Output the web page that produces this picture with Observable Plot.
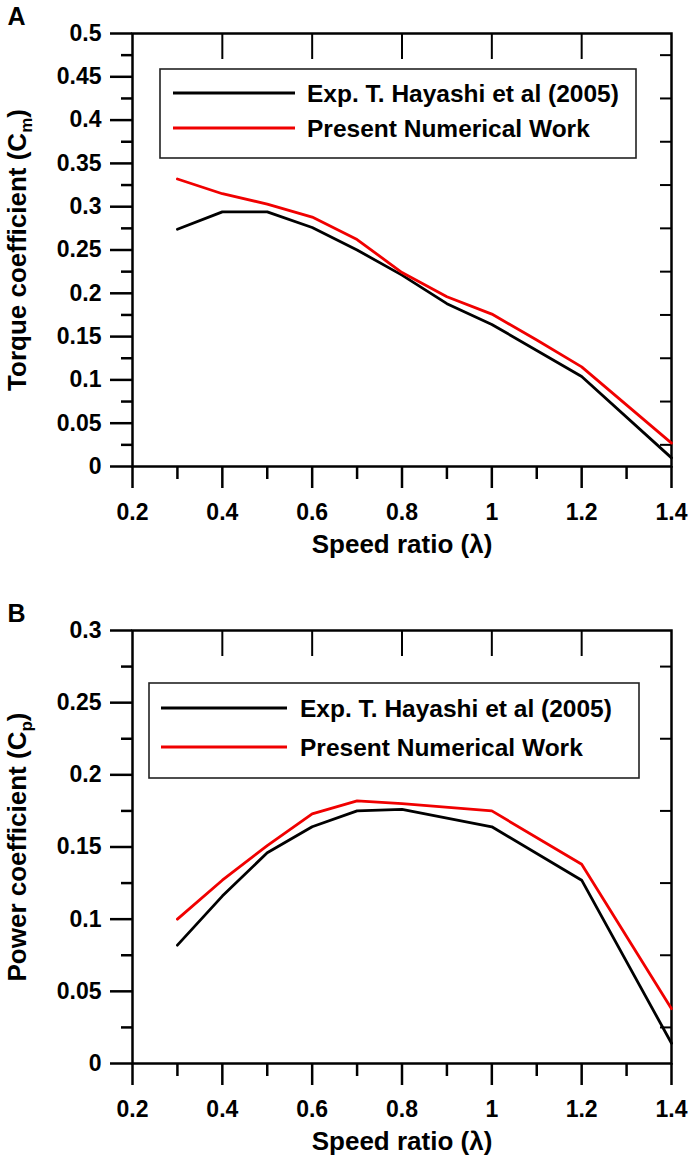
<!DOCTYPE html>
<html><head><meta charset="utf-8">
<script src="https://cdn.jsdelivr.net/npm/d3@7"></script>
<script src="https://cdn.jsdelivr.net/npm/@observablehq/plot@0.6"></script>
<style>body{margin:0;background:#fff;} #wrap{width:692px;} svg{display:block;}</style>
</head><body><div id="wrap"></div>
<script>
const seriesNames = ["Exp. T. Hayashi et al (2005)", "Present Numerical Work"];
const seriesColors = ["#000000", "#f00000"];

// Panel A: torque coefficient
const torqueExpX = [0.3, 0.4, 0.5, 0.6, 0.7, 0.8, 0.9, 1.0, 1.2, 1.4];
const torqueExpY = [0.274, 0.294, 0.294, 0.276, 0.250, 0.221, 0.188, 0.164, 0.104, 0.010];
const torqueNumX = [0.3, 0.4, 0.5, 0.6, 0.7, 0.8, 0.9, 1.0, 1.1, 1.2, 1.4];
const torqueNumY = [0.332, 0.315, 0.303, 0.288, 0.262, 0.224, 0.196, 0.176, 0.146, 0.115, 0.027];

// Panel B: power coefficient
const powerExpX = [0.3, 0.4, 0.5, 0.6, 0.7, 0.8, 1.0, 1.2, 1.4];
const powerExpY = [0.082, 0.116, 0.146, 0.164, 0.175, 0.176, 0.164, 0.127, 0.014];
const powerNumX = [0.3, 0.4, 0.5, 0.6, 0.7, 0.8, 1.0, 1.2, 1.4];
const powerNumY = [0.100, 0.127, 0.151, 0.173, 0.182, 0.180, 0.175, 0.138, 0.038];

// Ticks
const xMajor = [0.2, 0.4, 0.6, 0.8, 1.0, 1.2, 1.4];
const xMinor = [0.3, 0.5, 0.7, 0.9, 1.1, 1.3];
const xTop = [0.4, 0.6, 0.8, 1.0, 1.2];
const yMajorA = [0, 0.05, 0.1, 0.15, 0.2, 0.25, 0.3, 0.35, 0.4, 0.45, 0.5];
const yMinorA = [0.025, 0.075, 0.125, 0.175, 0.225, 0.275, 0.325, 0.375, 0.425, 0.475];
const yMajorB = [0, 0.05, 0.1, 0.15, 0.2, 0.25, 0.3];
const yMinorB = [0.025, 0.075, 0.125, 0.175, 0.225, 0.275];

const xTitle = "Speed ratio (λ)";
const FONT = "'Liberation Sans', Arial, Helvetica, sans-serif";

function zip(xs, ys) { return xs.map((x, i) => ({x, y: ys[i]})); }
const fmt = d => String(+(+d).toFixed(3));

function panel(cfg) {
  const p = Plot.plot({
    width: 692, height: cfg.height,
    marginTop: 33, marginLeft: 132, marginRight: 21, marginBottom: cfg.marginBottom,
    style: {fontFamily: FONT, fontWeight: "bold", fontSize: "23px", color: "#000", background: "#fff", overflow: "visible"},
    x: {domain: [0.2, 1.4]},
    y: {domain: cfg.yDomain},
    marks: [
      Plot.axisY(cfg.yMajor, {anchor: "left", tickSize: 22, tickPadding: 9, tickFormat: fmt, strokeWidth: 2.5, fontSize: 23, label: null}),
      Plot.axisY(cfg.yMinor, {anchor: "left", tickSize: 11, text: null, strokeWidth: 2.5, label: null}),
      Plot.axisY(cfg.yMinor, {anchor: "right", tickSize: -12, text: null, strokeWidth: 2, label: null}),
      Plot.axisX(xMajor, {anchor: "bottom", tickSize: 22, tickPadding: 15, tickFormat: fmt, strokeWidth: 2.5, fontSize: 23, label: null}),
      Plot.axisX(xMinor, {anchor: "bottom", tickSize: 13, text: null, strokeWidth: 2.5, label: null}),
      Plot.axisX(xTop, {anchor: "top", tickSize: -25, text: null, strokeWidth: 2, label: null}),
      Plot.frame({stroke: "#000", strokeWidth: 2.5}),
      Plot.line(cfg.exp, {x: "x", y: "y", stroke: seriesColors[0], strokeWidth: 2.8}),
      Plot.line(cfg.num, {x: "x", y: "y", stroke: seriesColors[1], strokeWidth: 2.8}),
      Plot.text([cfg.ylabel], {frameAnchor: "left", dx: -115, rotate: -90, fontSize: 26, textAnchor: "middle", lineAnchor: "middle", text: d => d}),
      Plot.text([xTitle], {frameAnchor: "bottom", dy: 78, fontSize: 26, textAnchor: "middle", lineAnchor: "middle", text: d => d}),
      Plot.text([cfg.letter], {frameAnchor: "top-left", dx: -116, dy: -17, fontSize: 25, textAnchor: "middle", lineAnchor: "middle", text: d => d})
    ]
  });
  const svg = d3.select(p);
  // subscript in y label
  svg.selectAll("text").filter(function () { return this.textContent === cfg.ylabel; })
    .each(function () {
      const t = d3.select(this);
      t.text(null);
      t.append("tspan").text(cfg.ylabelMain);
      t.append("tspan").attr("font-size", 17).attr("dy", 6).text(cfg.sub);
      t.append("tspan").attr("dy", -6).text(")");
    });
  // legend
  const L = cfg.legend;
  const g = svg.append("g").attr("font-family", FONT).attr("font-weight", "bold").attr("font-size", 24.5)
    .attr("text-anchor", "start");
  g.append("rect").attr("x", L.x0).attr("y", L.y0).attr("width", L.x1 - L.x0).attr("height", L.y1 - L.y0)
    .attr("fill", "#fff").attr("stroke", "#222").attr("stroke-width", 1.6);
  seriesNames.forEach((name, i) => {
    const yy = L.rows[i];
    g.append("line").attr("x1", L.lx0).attr("x2", L.lx1).attr("y1", yy).attr("y2", yy)
      .attr("stroke", seriesColors[i]).attr("stroke-width", 2.8);
    g.append("text").attr("x", L.tx).attr("y", yy).attr("dy", "0.36em").attr("fill", "#000")
      .attr("text-anchor", "start").text(name);
  });
  return p;
}

const wrap = document.getElementById("wrap");
wrap.appendChild(panel({
  letter: "A", height: 597, marginBottom: 131, yDomain: [0, 0.5],
  yMajor: yMajorA, yMinor: yMinorA,
  exp: zip(torqueExpX, torqueExpY), num: zip(torqueNumX, torqueNumY),
  ylabel: "Torque coefficient (Cm)", ylabelMain: "Torque coefficient (C", sub: "m",
  legend: {x0: 160, x1: 636, y0: 69, y1: 158, lx0: 173, lx1: 295, tx: 307, rows: [93, 128]}
}));
wrap.appendChild(panel({
  letter: "B", height: 559, marginBottom: 93, yDomain: [0, 0.3],
  yMajor: yMajorB, yMinor: yMinorB,
  exp: zip(powerExpX, powerExpY), num: zip(powerNumX, powerNumY),
  ylabel: "Power coefficient (Cp)", ylabelMain: "Power coefficient (C", sub: "p",
  legend: {x0: 149, x1: 639, y0: 86, y1: 181, lx0: 161, lx1: 287, tx: 300, rows: [111, 150]}
}));
</script>
</body></html>
